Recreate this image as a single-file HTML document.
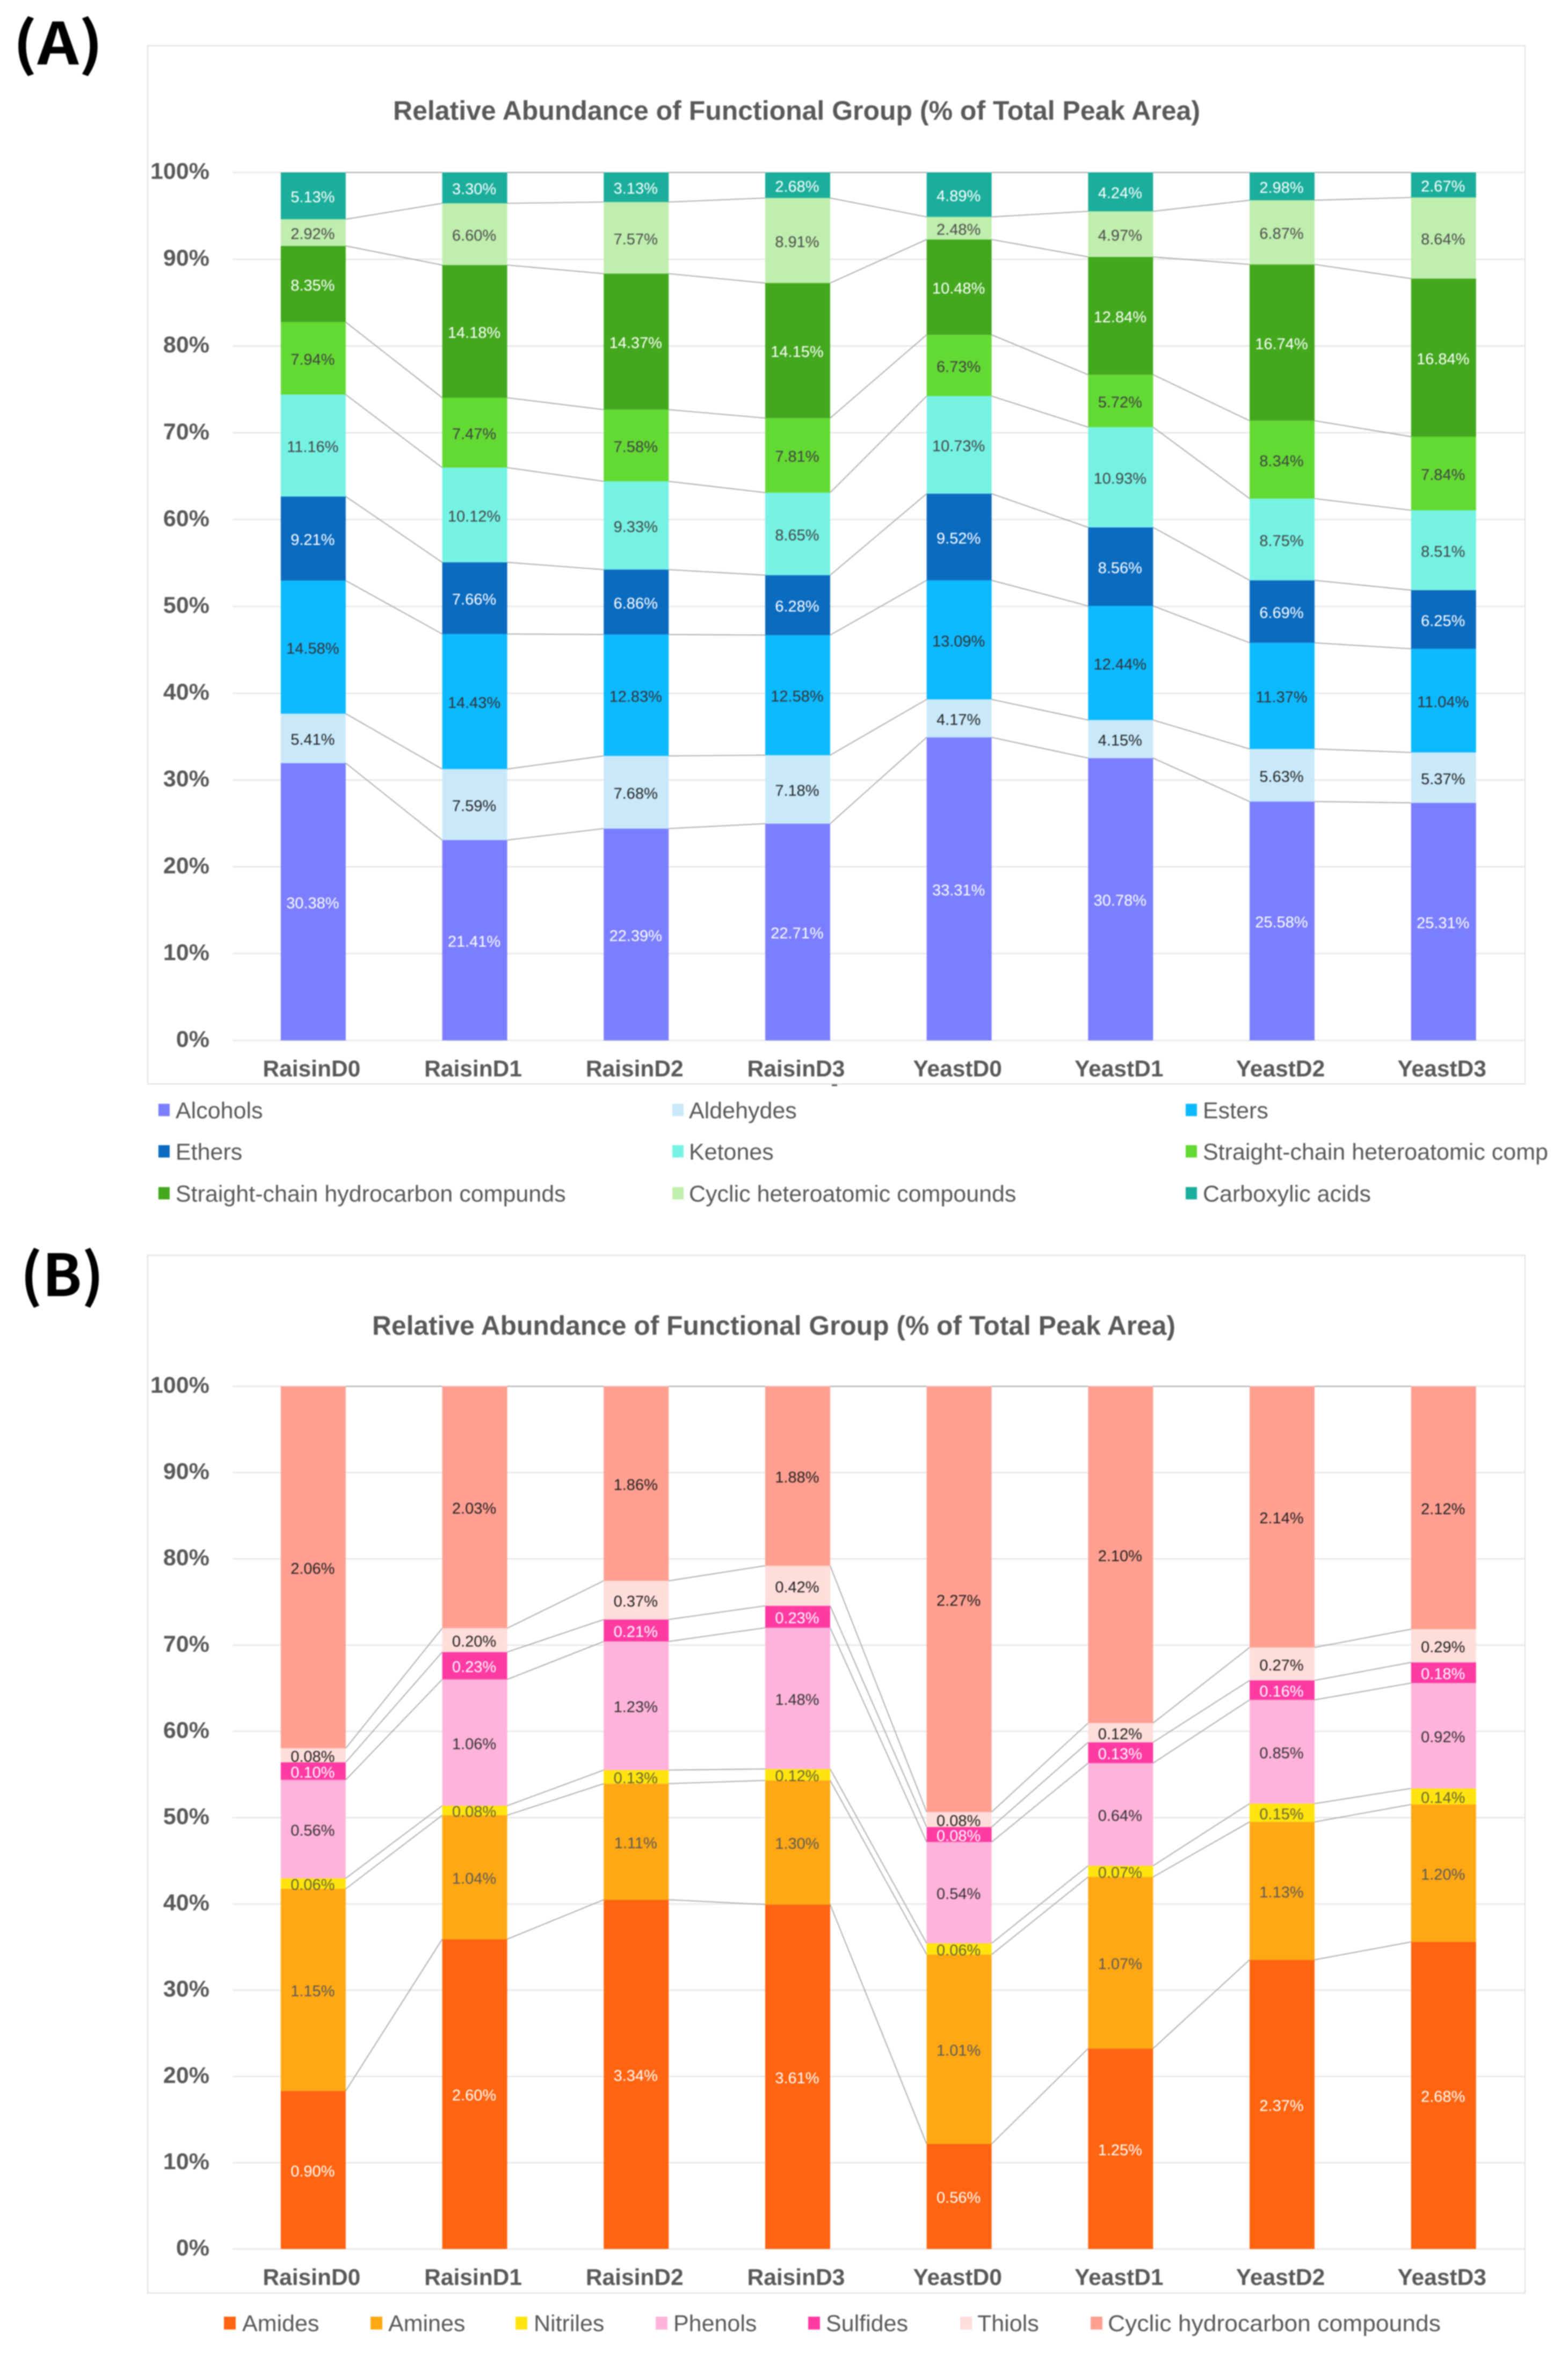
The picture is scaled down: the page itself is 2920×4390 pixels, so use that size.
<!DOCTYPE html>
<html lang="en">
<head>
<meta charset="utf-8">
<title>Relative Abundance of Functional Groups</title>
<style>
html,body{margin:0;padding:0;background:#fff;}
body{width:2920px;height:4390px;overflow:hidden;}
svg{display:block;filter:blur(1px);}
text{font-family:"Liberation Sans",sans-serif;}
.panel{fill:#fff;stroke:#e3e3e3;stroke-width:2.5;}
.title{font-weight:bold;font-size:50px;fill:#595959;}
.tag{font-family:"Noto Sans CJK KR","Liberation Sans",sans-serif;font-weight:700;font-size:108px;fill:#000;}
.leg{font-size:43px;fill:#595959;}
</style>
</head>
<body>
<svg id="fig" xmlns="http://www.w3.org/2000/svg" width="2920" height="4390" viewBox="0 0 2920 4390">
  <rect width="2920" height="4390" fill="#fff"/>

  <text class="tag" x="24" y="120" textLength="168" lengthAdjust="spacingAndGlyphs">(A)</text>
  <rect class="panel" x="275" y="85" width="2565" height="1933"/>
  <text class="title" x="732" y="223" textLength="1503" lengthAdjust="spacingAndGlyphs">Relative Abundance of Functional Group (% of Total Peak Area)</text>
  <g id="chartA"></g>
  <rect x="1549" y="2019" width="10" height="3" fill="#555"/>

  <g>
    <g><rect x="295" y="2055" width="21" height="23" fill="#7B7FFF"/><text class="leg" x="327" y="2082">Alcohols</text></g>
    <g><rect x="1252" y="2055" width="21" height="23" fill="#C9E9FB"/><text class="leg" x="1283" y="2082">Aldehydes</text></g>
    <g><rect x="2208" y="2055" width="21" height="23" fill="#0DB9FF"/><text class="leg" x="2240" y="2082">Esters</text></g>
    <g><rect x="295" y="2132" width="21" height="23" fill="#0B6BBF"/><text class="leg" x="327" y="2159">Ethers</text></g>
    <g><rect x="1252" y="2132" width="21" height="23" fill="#75F2E4"/><text class="leg" x="1283" y="2159">Ketones</text></g>
    <g><rect x="2208" y="2132" width="21" height="23" fill="#63DA33"/><text class="leg" x="2240" y="2159">Straight-chain heteroatomic comp</text></g>
    <g><rect x="295" y="2210" width="21" height="23" fill="#43A81E"/><text class="leg" x="327" y="2237">Straight-chain hydrocarbon compunds</text></g>
    <g><rect x="1252" y="2210" width="21" height="23" fill="#BFEEAE"/><text class="leg" x="1283" y="2237">Cyclic heteroatomic compounds</text></g>
    <g><rect x="2208" y="2210" width="21" height="23" fill="#1BAE9B"/><text class="leg" x="2240" y="2237">Carboxylic acids</text></g>
  </g>

  <text class="tag" x="38" y="2413">(B)</text>
  <rect class="panel" x="275" y="2337" width="2565" height="1932"/>
  <text class="title" x="693" y="2485" textLength="1496" lengthAdjust="spacingAndGlyphs">Relative Abundance of Functional Group (% of Total Peak Area)</text>
  <g id="chartB"></g>

  <g>
    <g><rect x="417" y="4313" width="22" height="24" fill="#FF6410"/><text class="leg" x="451" y="4340">Amides</text></g>
    <g><rect x="690" y="4313" width="22" height="24" fill="#FFA813"/><text class="leg" x="723" y="4340">Amines</text></g>
    <g><rect x="960" y="4313" width="22" height="24" fill="#FFE40F"/><text class="leg" x="994" y="4340">Nitriles</text></g>
    <g><rect x="1221" y="4313" width="22" height="24" fill="#FFB3DB"/><text class="leg" x="1254" y="4340">Phenols</text></g>
    <g><rect x="1505" y="4313" width="22" height="24" fill="#FF3BA3"/><text class="leg" x="1538" y="4340">Sulfides</text></g>
    <g><rect x="1788" y="4313" width="22" height="24" fill="#FFDDDB"/><text class="leg" x="1820" y="4340">Thiols</text></g>
    <g><rect x="2031" y="4313" width="22" height="24" fill="#FF9F91"/><text class="leg" x="2063" y="4340" textLength="620" lengthAdjust="spacingAndGlyphs">Cyclic hydrocarbon compounds</text></g>
  </g>
</svg>

<script>
// ---- shared axis data ----
var categories = ['RaisinD0','RaisinD1','RaisinD2','RaisinD3','YeastD0','YeastD1','YeastD2','YeastD3'];
var tickValues = [0,10,20,30,40,50,60,70,80,90,100];
var tickLabels = ['0%','10%','20%','30%','40%','50%','60%','70%','80%','90%','100%'];

// ---- chart A series (stack order, bottom to top) ----
var alcohols      = [30.38,21.41,22.39,22.71,33.31,30.78,25.58,25.31];
var aldehydes     = [5.41,7.59,7.68,7.18,4.17,4.15,5.63,5.37];
var esters        = [14.58,14.43,12.83,12.58,13.09,12.44,11.37,11.04];
var ethers        = [9.21,7.66,6.86,6.28,9.52,8.56,6.69,6.25];
var ketones       = [11.16,10.12,9.33,8.65,10.73,10.93,8.75,8.51];
var straightHetero= [7.94,7.47,7.58,7.81,6.73,5.72,8.34,7.84];
var straightHydro = [8.35,14.18,14.37,14.15,10.48,12.84,16.74,16.84];
var cyclicHetero  = [2.92,6.60,7.57,8.91,2.48,4.97,6.87,8.64];
var carboxylic    = [5.13,3.30,3.13,2.68,4.89,4.24,2.98,2.67];

// ---- chart B series (stack order, bottom to top) ----
var amides        = [0.90,2.60,3.34,3.61,0.56,1.25,2.37,2.68];
var amines        = [1.15,1.04,1.11,1.30,1.01,1.07,1.13,1.20];
var nitriles      = [0.06,0.08,0.13,0.12,0.06,0.07,0.15,0.14];
var phenols       = [0.56,1.06,1.23,1.48,0.54,0.64,0.85,0.92];
var sulfides      = [0.10,0.23,0.21,0.23,0.08,0.13,0.16,0.18];
var thiols        = [0.08,0.20,0.37,0.42,0.08,0.12,0.27,0.29];
var cyclicHydro   = [2.06,2.03,1.86,1.88,2.27,2.10,2.14,2.12];

var NS = 'http://www.w3.org/2000/svg';
function make(tag, attrs, parent) {
  var el = document.createElementNS(NS, tag);
  for (var k in attrs) el.setAttribute(k, attrs[k]);
  parent.appendChild(el);
  return el;
}

function drawStack(root, series, slug, y0, y100) {
  var left = 433, band = 300.7, barW = 121;
  function xCenter(i) { return left + band * (i + 0.5); }
  function yScale(p) { return y0 + (y100 - y0) * p / 100; }

  // gridlines + y ticks
  tickValues.forEach(function (t, k) {
    var line = make('line', {x1: left, x2: left + band * categories.length, y1: yScale(t), y2: yScale(t), stroke: '#e6e6e6', 'stroke-width': 2.5}, root);
    
    
    var lab = make('text', {x: 390, y: yScale(t) + 12, 'text-anchor': 'end', 'font-size': 43, 'font-weight': 'bold', fill: '#595959'}, root);
    lab.textContent = tickLabels[k];
    
    
  });

  // cumulative percentage per category
  var tops = series.map(function () { return []; });
  var bottoms = series.map(function () { return []; });
  categories.forEach(function (c, i) {
    var total = 0;
    series.forEach(function (s) { total += s.values[i]; });
    var run = 0;
    series.forEach(function (s, j) {
      bottoms[j][i] = run / total * 100;
      run += s.values[i];
      tops[j][i] = run / total * 100;
    });
  });

  // series connector lines
  series.forEach(function (s, j) {
    for (var i = 0; i < categories.length - 1; i++) {
      var ln = make('line', {x1: xCenter(i) + barW / 2, y1: yScale(tops[j][i]), x2: xCenter(i + 1) - barW / 2, y2: yScale(tops[j][i + 1]), stroke: '#a6a6a6', 'stroke-width': 1.8}, root);
      
      
    }
  });

  // bars
  series.forEach(function (s, j) {
    categories.forEach(function (c, i) {
      var yt = yScale(tops[j][i]), yb = yScale(bottoms[j][i]);
      var r = make('rect', {x: xCenter(i) - barW / 2, y: yt, width: barW, height: yb - yt, fill: s.color}, root);
      
      
    });
  });

  // value labels
  series.forEach(function (s, j) {
    categories.forEach(function (c, i) {
      var ym = (yScale(tops[j][i]) + yScale(bottoms[j][i])) / 2;
      var t = make('text', {x: xCenter(i) - 1, y: ym + 12, 'text-anchor': 'middle', 'font-size': 29, fill: s.label}, root);
      t.textContent = s.values[i].toFixed(2) + '%';
      
      
    });
  });

  // x-axis category labels
  categories.forEach(function (c, i) {
    var t = make('text', {x: xCenter(i) - 3, y: y0 + 67, 'text-anchor': 'middle', 'font-size': 42.5, 'font-weight': 'bold', fill: '#595959'}, root);
    t.textContent = c;
    
    
  });
}

drawStack(document.getElementById('chartA'), [
  {values: alcohols,       color: '#7B7FFF', label: '#ffffff'},
  {values: aldehydes,      color: '#C9E9FB', label: '#262626'},
  {values: esters,         color: '#0DB9FF', label: '#333333'},
  {values: ethers,         color: '#0B6BBF', label: '#ffffff'},
  {values: ketones,        color: '#75F2E4', label: '#444444'},
  {values: straightHetero, color: '#63DA33', label: '#404040'},
  {values: straightHydro,  color: '#43A81E', label: '#ffffff'},
  {values: cyclicHetero,   color: '#BFEEAE', label: '#4d4d4d'},
  {values: carboxylic,     color: '#1BAE9B', label: '#ffffff'}
], 'a', 1937, 321);

drawStack(document.getElementById('chartB'), [
  {values: amides,      color: '#FF6410', label: '#ffffff'},
  {values: amines,      color: '#FFA813', label: '#595959'},
  {values: nitriles,    color: '#FFE40F', label: '#666633'},
  {values: phenols,     color: '#FFB3DB', label: '#333333'},
  {values: sulfides,    color: '#FF3BA3', label: '#ffffff'},
  {values: thiols,      color: '#FFDDDB', label: '#222222'},
  {values: cyclicHydro, color: '#FF9F91', label: '#222222'}
], 'b', 4187, 2581);
</script>
</body>
</html>
